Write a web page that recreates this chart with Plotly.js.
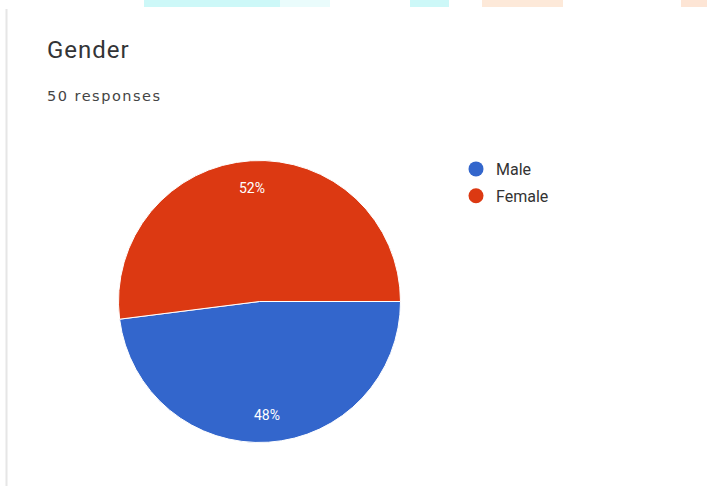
<!DOCTYPE html>
<html>
<head>
<meta charset="utf-8">
<script src="https://cdn.plot.ly/plotly-3.0.1.min.js"></script>
<style>
html,body{margin:0;padding:0;background:#fff;}
#chart{width:707px;height:486px;}
</style>
</head>
<body>
<div id="chart"></div>
<script>
const chartTitle = "Gender";
const subtitle = "50 responses";
const labels = ["Male", "Female"];
const values = [24, 26];
const colors = ["#3366CC", "#DC3912"];

const W = 707, H = 486;
const cx = 259.5, cy = 301.5, r = 141;
const startDeg = 90;      // first slice starts at 3 o'clock, clockwise
const labelRad = 0.81;    // label distance as fraction of radius

const traces = [{
  type: "pie",
  labels: labels,
  values: values,
  sort: false,
  direction: "clockwise",
  rotation: startDeg,
  marker: {colors: colors, line: {color: "#ffffff", width: 1}},
  textinfo: "none",
  hoverinfo: "label+percent",
  showlegend: false,
  domain: {x: [(cx - r) / W, (cx + r) / W], y: [(H - cy - r) / H, (H - cy + r) / H]}
}];

labels.forEach((lab, i) => {
  traces.push({
    type: "scatter", mode: "markers", x: [null], y: [null], name: lab,
    legendgroup: "g" + i,
    marker: {symbol: "circle", size: 15, color: colors[i]},
    showlegend: true, hoverinfo: "skip"
  });
});

const annotations = [
  {text: chartTitle, xref: "paper", yref: "paper", x: 45 / W, y: 1 - 50 / H,
   xanchor: "left", yanchor: "middle", align: "left", showarrow: false,
   font: {family: "Roboto, Arial, sans-serif", size: 24, color: "#333436"}},
  {text: subtitle, xref: "paper", yref: "paper", x: 45 / W, y: 1 - 96 / H,
   xanchor: "left", yanchor: "middle", align: "left", showarrow: false,
   font: {family: "DejaVu Sans, Arial, sans-serif", size: 14.5, color: "#444444"}}
];

// percentage labels placed along each slice's mid-angle
const total = values.reduce((a, b) => a + b, 0);
let acc = 0;
values.forEach((v, i) => {
  const mid = startDeg + (acc + v / 2) / total * 360;
  acc += v;
  const th = mid * Math.PI / 180;
  const px = cx + labelRad * r * Math.sin(th);
  const py = cy - labelRad * r * Math.cos(th);
  annotations.push({
    text: Math.round(v / total * 100) + "%", xref: "paper", yref: "paper",
    x: px / W, y: 1 - py / H, xanchor: "center", yanchor: "middle", showarrow: false,
    font: {family: "Roboto, Arial, sans-serif", size: 14, color: "#ffffff"}
  });
});

const layout = {
  width: W, height: H,
  margin: {l: 0, r: 0, t: 0, b: 0},
  paper_bgcolor: "#ffffff",
  plot_bgcolor: "rgba(0,0,0,0)",
  xaxis: {visible: false, domain: [0.95, 1]},
  yaxis: {visible: false, domain: [0.95, 1]},
  showlegend: true,
  legend: {
    x: 456 / W, y: 1 - 152 / H, xanchor: "left", yanchor: "top",
    font: {family: "Roboto, Arial, sans-serif", size: 16, color: "#333333"},
    itemwidth: 30, traceorder: "grouped", tracegroupgap: 3, bgcolor: "rgba(0,0,0,0)"
  },
  annotations: annotations,
  shapes: [
    {type: "line", xref: "paper", yref: "paper", x0: 6.5 / W, x1: 6.5 / W, y0: 0, y1: 1 - 9 / H,
     line: {color: "#e6e6e6", width: 2}},
    {type: "rect", xref: "paper", yref: "paper", x0: 144 / W, x1: 280 / W, y0: 1 - 7 / H, y1: 1,
     fillcolor: "#cdf8f8", line: {width: 0}},
    {type: "rect", xref: "paper", yref: "paper", x0: 280 / W, x1: 330 / W, y0: 1 - 7 / H, y1: 1,
     fillcolor: "#eafcfc", line: {width: 0}},
    {type: "rect", xref: "paper", yref: "paper", x0: 410 / W, x1: 449 / W, y0: 1 - 7 / H, y1: 1,
     fillcolor: "#cdf8f8", line: {width: 0}},
    {type: "rect", xref: "paper", yref: "paper", x0: 482 / W, x1: 563 / W, y0: 1 - 7 / H, y1: 1,
     fillcolor: "#fde9d9", line: {width: 0}},
    {type: "rect", xref: "paper", yref: "paper", x0: 681 / W, x1: 1, y0: 1 - 7 / H, y1: 1,
     fillcolor: "#fde5d5", line: {width: 0}}
  ]
};

Plotly.newPlot("chart", traces, layout, {displayModeBar: false, staticPlot: true}).then(gd => {
  const txt = gd.querySelectorAll(".annotation-text");
  if (txt[0]) txt[0].style.letterSpacing = "1px";
  if (txt[1]) txt[1].style.letterSpacing = "1.5px";
});
</script>
</body>
</html>
